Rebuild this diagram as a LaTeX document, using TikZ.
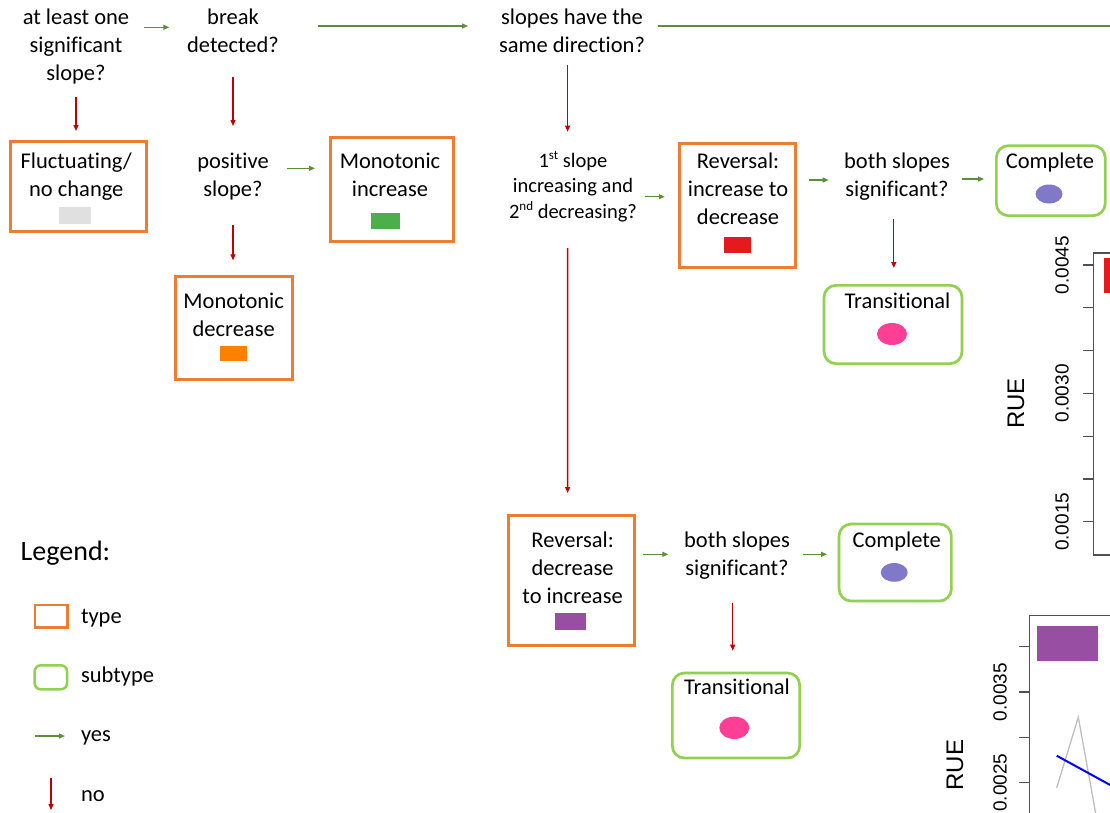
\documentclass[tikz,border=0pt]{standalone}
\usepackage{fontspec}
\setmainfont{Carlito}[Ligatures=CommonOff]
\newfontfamily\plotfont{Liberation Sans}
\usetikzlibrary{arrows.meta,shapes.geometric,calc}

\definecolor{typeorange}{HTML}{ED7D31}
\definecolor{subgreen}{HTML}{92D050}
\definecolor{yesgreen}{HTML}{5A8F3C}
\definecolor{nored}{HTML}{C00000}
\definecolor{swgray}{HTML}{E0E0E0}
\definecolor{swgreen}{HTML}{4DAF4A}
\definecolor{sworange}{HTML}{FF7F00}
\definecolor{swred}{HTML}{E41A1C}
\definecolor{swpurple}{HTML}{984EA3}
\definecolor{completecol}{HTML}{8079C8}
\definecolor{transitcol}{HTML}{FF3E96}
\definecolor{axisgray}{HTML}{505050}
\definecolor{linegray}{HTML}{BEBEBE}

% small raised ordinal suffix
\newcommand\ordsup[1]{\raisebox{0.36em}{\fontsize{13}{13}\selectfont #1}}

\begin{document}
\begin{tikzpicture}[x=1pt,y=-1pt,
  every node/.style={inner sep=0pt, outer sep=0pt},
  txt/.style={align=center, anchor=north, font=\fontsize{22.5}{28}\selectfont},
  smalltxt/.style={align=center, anchor=north, font=\fontsize{20.5}{25.5}\selectfont},
  oneline/.style={anchor=base, font=\fontsize{22.5}{28}\selectfont},
  lgtxt/.style={anchor=base west, font=\fontsize{22.5}{28}\selectfont},
  typebox/.style={rectangle, draw=typeorange, line width=3pt},
  subbox/.style={rectangle, draw=subgreen, line width=2.7pt, rounded corners=12pt},
  swatch/.style={rectangle, draw=none},
  dotmark/.style={ellipse, draw=none},
  yesline/.style={draw=yesgreen, line width=1.3pt},
  yesarrow/.style={yesline, -{Triangle[length=6pt,width=5pt]}},
  noarrow/.style={draw=nored, line width=1.3pt, -{Triangle[length=6pt,width=5pt]}},
  axisline/.style={draw=axisgray, line width=1.3pt},
  ticklbl/.style={rotate=90, font=\plotfont\fontsize{19}{22}\selectfont},
  axislbl/.style={rotate=90, font=\plotfont\fontsize{24}{28}\selectfont}]

\useasboundingbox (0,0) rectangle (1110,812);
\fill[white] (0,0) rectangle (1110,812);
\clip (0,0) rectangle (1110,812);

% decision questions
\node[txt] (q1) at (76,4.4) {\strut at least one\\significant\\slope?};
\node[txt] (q2) at (233,4.4) {\strut break\\detected?};
\node[txt] (q3) at (572,4.4) {\strut slopes have the\\same direction?};
\node[txt] (q4) at (233,148.4) {\strut positive\\slope?};
\node[smalltxt] (q5) at (573,149.15) {\strut 1\ordsup{st} slope\\increasing and\\2\ordsup{nd} decreasing?};
\node[txt] (q6) at (897,148.4) {\strut both slopes\\significant?};
\node[txt] (q7) at (737,527.4) {\strut both slopes\\significant?};

% types
\node[typebox, minimum width=136.3pt, minimum height=90.3pt] (bFluct) at (78.65,186.65) {};
\node[txt] (tFluct) at (76.3,148.4) {\strut Fluctuating/\\no change};
\node[swatch, fill=swgray, minimum width=31.4pt, minimum height=17.3pt] (sFluct) at (75,215.35) {};

\node[typebox, minimum width=123pt, minimum height=103.5pt] (bMonoInc) at (392,189.25) {};
\node[txt] (tMonoInc) at (390,148.4) {\strut Monotonic\\increase};
\node[swatch, fill=swgreen, minimum width=28.3pt, minimum height=16pt] (sMonoInc) at (385.6,221) {};

\node[typebox, minimum width=117pt, minimum height=103pt] (bMonoDec) at (234,328) {};
\node[txt] (tMonoDec) at (233.7,288.4) {\strut Monotonic\\decrease};
\node[swatch, fill=sworange, minimum width=27.3pt, minimum height=15.3pt] (sMonoDec) at (233.7,353.7) {};

\node[typebox, minimum width=116pt, minimum height=123.8pt] (bRevID) at (737.5,205.1) {};
\node[txt] (tRevID) at (738,148.4) {\strut Reversal:\\increase to\\decrease};
\node[swatch, fill=swred, minimum width=27.3pt, minimum height=15.7pt] (sRevID) at (737.5,245.2) {};

\node[typebox, minimum width=126pt, minimum height=130.3pt] (bRevDI) at (571.2,580.65) {};
\node[txt] (tRevDI) at (572.6,527.4) {\strut Reversal:\\decrease\\to increase};
\node[swatch, fill=swpurple, minimum width=31pt, minimum height=16.7pt] (sRevDI) at (570.5,621.7) {};

% subtypes
\node[subbox, minimum width=108.8pt, minimum height=70pt] (bCompU) at (1050.75,180.65) {};
\node[oneline] (tCompU) at (1050,168) {Complete};
\node[dotmark, fill=completecol, minimum width=27pt, minimum height=19pt] (eCompU) at (1049,194) {};

\node[subbox, minimum width=138pt, minimum height=78.3pt] (bTransU) at (893,324.5) {};
\node[oneline] (tTransU) at (897.5,308) {Transitional};
\node[dotmark, fill=transitcol, minimum width=30pt, minimum height=22pt] (eTransU) at (892,334) {};

\node[subbox, minimum width=112.3pt, minimum height=77pt] (bCompL) at (895.2,562.5) {};
\node[oneline] (tCompL) at (896.7,547) {Complete};
\node[dotmark, fill=completecol, minimum width=27pt, minimum height=18.7pt] (eCompL) at (894.2,572.4) {};

\node[subbox, minimum width=127.3pt, minimum height=85pt] (bTransL) at (736,715.5) {};
\node[oneline] (tTransL) at (737,694) {Transitional};
\node[dotmark, fill=transitcol, minimum width=30pt, minimum height=22.3pt] (eTransL) at (734.3,727.8) {};

% yes connectors
\draw[yesarrow, shorten <=68pt, shorten >=63.7pt] (q1 |- 0,27.3) -- (q2 |- 0,27.3);
\draw[yesarrow, shorten <=84.7pt, shorten >=104pt] (q2 |- 0,26) -- (q3 |- 0,26);
\coordinate (edgeR) at (1110,26);
\draw[yesline, shorten <=86pt] (q3 |- 0,26) -- (edgeR);
\draw[yesarrow, shorten <=53.7pt, shorten >=77pt] (q4 |- 0,168.3) -- (bMonoInc |- 0,168.3);
\draw[yesarrow, shorten <=71.7pt, shorten >=72.7pt] (q5 |- 0,196.7) -- (bRevID |- 0,196.7);
\draw[yesarrow, shorten <=71.1pt, shorten >=68.3pt] (bRevID |- 0,180) -- (q6 |- 0,180);
\draw[yesarrow, shorten <=65pt, shorten >=66.75pt] (q6 |- 0,179) -- (bCompU |- 0,179);
\draw[yesarrow, shorten <=72.1pt, shorten >=68.7pt] (bRevDI |- 0,554.3) -- (q7 |- 0,554.3);
\draw[yesarrow, shorten <=66pt, shorten >=68.2pt] (q7 |- 0,554.3) -- (bCompL |- 0,554.3);

% no connectors
\draw[noarrow, shorten <=92.3pt, shorten >=10.5pt] (q1.north) -- (q1.north |- bFluct.north);
\draw[noarrow, shorten <=72.3pt, shorten >=22.4pt] (q2.north) -- (q2.north |- q4.north);
\draw[noarrow, shorten <=60.6pt, shorten >=17.45pt] ($(q3.north)+(-4.4,0)$) -- ($(q5.north)+(-5.4,0)$);
\draw[noarrow, shorten <=76.6pt, shorten >=16.2pt] (q4.north) -- (q4.north |- bMonoDec.north);
\draw[noarrow, shorten <=98.85pt, shorten >=22.5pt] ($(q5.north)+(-5.4,0)$) -- ($(bRevDI.north)+(-3.6,0)$);
\draw[noarrow, shorten <=70.6pt, shorten >=17.35pt] ($(q6.north)+(-3.2,0)$) -- ($(bTransU.north)+(0.8,0)$);
\draw[noarrow, shorten <=75.3pt, shorten >=22.3pt] ($(q7.north)+(-4.3,0)$) -- ($(bTransL.north)+(-3.3,0)$);

% legend
\node[anchor=base west, font=\fontsize{28}{34}\selectfont] (lgTitle) at (20.7,560) {Legend:};
\node[typebox, line width=2.5pt, minimum width=32.7pt, minimum height=22.7pt] (lgType) at (51.2,616.2) {};
\node[lgtxt] (lgTypeT) at (81,623) {type};
\node[subbox, line width=2.5pt, rounded corners=6pt, minimum width=32.3pt, minimum height=24pt] (lgSub) at (50.85,677.3) {};
\node[lgtxt] (lgSubT) at (81,682.7) {subtype};
\coordinate (lgYes) at (35,736);
\node[lgtxt] (lgYesT) at (81,741.7) {yes};
\draw[yesarrow, shorten >=16pt] (lgYes) -- (lgYesT.west |- lgYes);
\coordinate (lgNo) at (51,778);
\node[lgtxt] (lgNoT) at (81,801.7) {no};
\draw[noarrow] (lgNo) -- ++(0,32);

% upper RUE panel
\draw[axisline] (1112,253) -- (1093.5,253) -- (1093.5,555) -- (1112,555);
\fill[swred] (1104,258) rectangle (1112,293.3);
\foreach \t in {0,...,6}
  \draw[axisline] (1083.3,{265+42.8*\t}) -- (1093.5,{265+42.8*\t});
\node[ticklbl] (uT1) at (1062,265) {0.0045};
\node[ticklbl] (uT2) at (1062,393.4) {0.0030};
\node[ticklbl] (uT3) at (1062,521.8) {0.0015};
\node[axislbl] (uRUE) at (1016,403.5) {RUE};

% lower RUE panel
\draw[axisline] (1112,615.7) -- (1029.3,615.7) -- (1029.3,815);
\fill[swpurple] (1036.7,625.7) rectangle (1098.3,661);
\foreach \t in {0,...,3}
  \draw[axisline] (1019.3,{646.7+45.33*\t}) -- (1029.3,{646.7+45.33*\t});
\node[ticklbl] (lT1) at (1000,692) {0.0035};
\node[ticklbl] (lT2) at (1000,782.7) {0.0025};
\node[axislbl] (lRUE) at (955,765) {RUE};
\draw[linegray, line width=1.3pt] (1056.7,787.7) -- (1078.3,717.3) -- (1096,815);
\draw[blue, line width=2pt] (1056.7,755.7) -- (1112,786);

\end{tikzpicture}
\end{document}
